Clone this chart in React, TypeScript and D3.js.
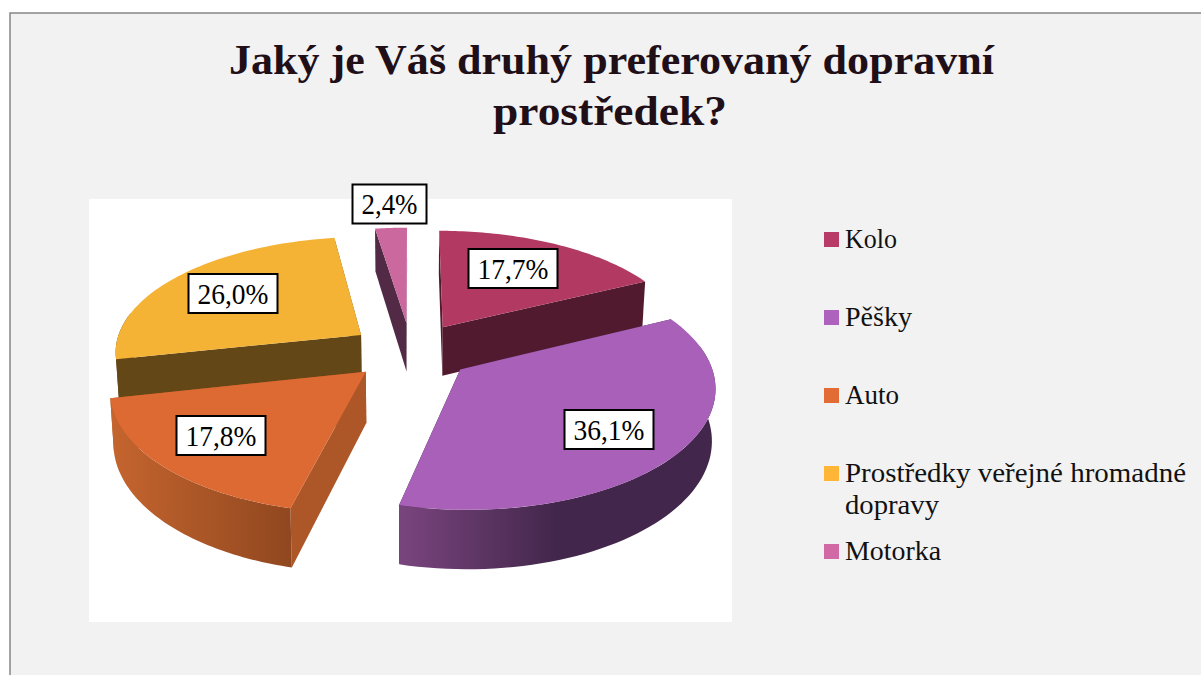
import React from "react";
import * as d3 from "d3";

const categories = ["Kolo", "Pěšky", "Auto", "Prostředky veřejné hromadné", "Motorka"];
const shares = [17.7, 36.1, 17.8, 26.0, 2.4];
const shareLabels = ["17,7%", "36,1%", "17,8%", "26,0%", "2,4%"];
const topColors = ["#b23a62", "#a860b8", "#dc6a32", "#f5b335", "#cb689e"];
const legendColors = ["#b83a66", "#ad63bd", "#e36c35", "#ffb637", "#d069a5"];
const cutColors = ["#521a2e", "#42264c", "#ad5628", "#644717", "#522a46"];
const wallStops: string[][] = [
  ["#521a2e", "#521a2e"],
  ["#7a457e", "#42264b"],
  ["#c5652f", "#90471f"],
  ["#644717", "#644717"],
  ["#522a46", "#522a46"],
];
const labelCenters = [[513, 268.5], [609, 429.5], [221, 435.5], [233, 293.5], [389.5, 204]];
const drawOrder = [4, 0, 3, 2, 1];

// projection of the tilted pie
const CX = 411, CY = 351, AX = 247, BY = 115.6, KX = 0.13, KY = 0.137, EXPLODE = 0.25, DEPTH = 50, SHRINK = 1.012;

const project = (X: number, Y: number, bottom = false): [number, number] => {
  const wx = (1 + KX * Y) * (bottom ? SHRINK : 1);
  const wy = 1 + KY * Y;
  return [CX + (AX * X) / wx, CY + (-BY * Y + (bottom ? DEPTH : 0)) / wy];
};

const line = d3.line();
const pieAngles = d3.pie<number>().sort(null).value((d) => d)(shares);

function sliceGeometry(i: number) {
  const { startAngle: a0, endAngle: a1 } = pieAngles[i];
  const mid = (a0 + a1) / 2;
  const ox = EXPLODE * Math.sin(mid);
  const oy = EXPLODE * Math.cos(mid);
  const pt = (a: number, bottom = false) => project(ox + Math.sin(a), oy + Math.cos(a), bottom);
  const sample = (from: number, to: number) =>
    d3.range(61).map((k) => from + ((to - from) * k) / 60);
  const tip = project(ox, oy);
  const tipB = project(ox, oy, true);
  const top = line([tip, ...sample(a0, a1).map((a) => pt(a))]) + "Z";
  const cut = (a: number) => line([tip, pt(a), pt(a, true), tipB]) + "Z";
  const limitA = Math.acos(0.2);
  const from = Math.max(a0, limitA);
  const to = Math.min(a1, 2 * Math.PI - limitA);
  const wall =
    from < to
      ? line([
          ...sample(from, to).map((a) => pt(a)),
          ...sample(from, to)
            .reverse()
            .map((a) => pt(a, true)),
        ]) + "Z"
      : null;
  return { top, cuts: [cut(a0), cut(a1)], wall };
}

const legendRows = [
  { lines: ["Kolo"], y: 247, w: [52] },
  { lines: ["Pěšky"], y: 325, w: [67] },
  { lines: ["Auto"], y: 403, w: [54] },
  { lines: ["Prostředky veřejné hromadné", "dopravy"], y: 481, w: [341, 94] },
  { lines: ["Motorka"], y: 559, w: [96] },
];
const legendFont = "'Liberation Serif', serif";

export default function App() {
  return (
    <div style={{ position: "absolute", left: 0, top: 0 }}>
      <svg width={1201} height={675} style={{ display: "block" }}>
        <defs>
          {wallStops.map((s, i) => (
            <linearGradient key={i} id={`wall${i}`} x1="0" x2="1" y1="0" y2="0">
              <stop offset="0" stopColor={s[0]} />
              <stop offset={i === 1 ? "0.5" : "1"} stopColor={s[1]} />
              <stop offset="1" stopColor={s[1]} />
            </linearGradient>
          ))}
        </defs>
        <rect width={1201} height={675} fill="#ffffff" />
        <rect x={10} y={13} width={1195} height={670} fill="#f2f2f2" stroke="#868686" strokeWidth={1.5} />
        <rect x={89} y={199} width={643} height={423} fill="#ffffff" />
        <g fontFamily={legendFont} fontWeight={700} fontSize={43} fill="#210f18" textAnchor="middle">
          <text x={611.5} y={74} textLength={765} lengthAdjust="spacingAndGlyphs">
            Jaký je Váš druhý preferovaný dopravní
          </text>
          <text x={610} y={125} textLength={234} lengthAdjust="spacingAndGlyphs">
            prostředek?
          </text>
        </g>
        {drawOrder.map((i) => {
          const g = sliceGeometry(i);
          return (
            <g key={categories[i]}>
              {g.cuts.map((d, j) => (
                <path key={j} d={d} fill={cutColors[i]} />
              ))}
              {g.wall && <path d={g.wall} fill={`url(#wall${i})`} />}
              <path d={g.top} fill={topColors[i]} />
            </g>
          );
        })}
        {shareLabels.map((t, i) => {
          const [x, y] = labelCenters[i];
          const w = i === 4 ? 74 : 89;
          return (
            <g key={t}>
              <rect x={x - w / 2} y={y - 19.5} width={w} height={39} fill="#fff" stroke="#000" strokeWidth={2} />
              <text x={x} y={y + 10} textAnchor="middle" fontFamily={legendFont} fontSize={29} fill="#000" textLength={w - 18} lengthAdjust="spacingAndGlyphs">
                {t}
              </text>
            </g>
          );
        })}
        {legendRows.map((r, i) => (
          <g key={r.lines[0]}>
            <rect x={824} y={r.y - 15} width={15} height={15} fill={legendColors[i]} />
            {r.lines.map((l, j) => (
              <text key={l} x={845} y={r.y + 1 + j * 32} fontFamily={legendFont} fontSize={27} fill="#111" textLength={r.w[j]} lengthAdjust="spacingAndGlyphs">
                {l}
              </text>
            ))}
          </g>
        ))}
      </svg>
    </div>
  );
}
